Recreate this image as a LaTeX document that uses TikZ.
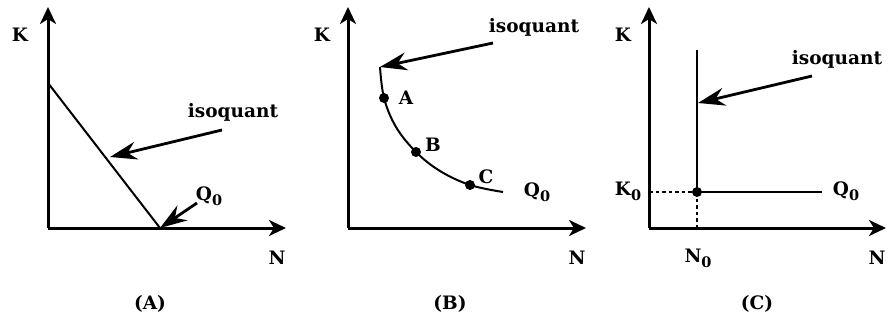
\documentclass[tikz,border=0pt]{standalone}
\usepackage{fontspec}
\setmainfont{DejaVu Serif}
\usepackage{tikz}
\usetikzlibrary{arrows.meta, calc}

\newcommand{\lowidx}[1]{\raisebox{-0.55ex}{\fontsize{14.5}{14.5}\selectfont #1}}

\begin{document}
\begin{tikzpicture}[
    x=1pt, y=-1pt,
    font=\fontsize{18.5}{18.5}\selectfont\bfseries,
    % ---- axes ----
    axis/.style={line width=3pt, -{Stealth[length=17pt, width=16pt, inset=5pt]}},
    % ---- isoquant curves ----
    quant/.style={line width=2pt},
    % ---- pointer arrows ----
    pointer/.style={line width=2.8pt, -{Stealth[length=27pt, width=18pt, inset=9pt]}},
    guide/.style={line width=1.8pt, dash pattern=on 3.5pt off 3pt},
    dot/.style={circle, fill=black, inner sep=0pt, minimum size=10pt},
    lbl/.style={inner sep=1pt}
]
\useasboundingbox (0,0) rectangle (891,321);

% ============================================================
%  (A) perfect substitutes
% ============================================================
\coordinate (OA) at (48,228);
\coordinate (KA) at (48,7);
\coordinate (NA) at (286,228);
\coordinate (KaTop) at (48,83);
\coordinate (QaEnd) at (160,228);
\coordinate (PtA) at (110,157);

\draw[axis] (OA) -- (KA);
\draw[axis] (OA) -- (NA);
\draw[quant] (KaTop) -- (QaEnd);

\node[lbl] (kA) at (20,35) {K};
\node[lbl] (nA) at (277,258) {N};
\node[lbl] (isoA) at (233,112) {isoquant};
\node[lbl] (qA) at (209,196) {Q\lowidx{0}};
\node[lbl] (capA) at (150,304) {(A)};

\coordinate (isoAtail) at (222,130);
\coordinate (qAtail) at (197,203);
\draw[pointer] (isoAtail) -- (PtA);
\draw[pointer] (qAtail) -- (QaEnd);

% ============================================================
%  (B) convex isoquant
% ============================================================
\coordinate (OB) at (348,228);
\coordinate (KB) at (348,7);
\coordinate (NB) at (586,228);
\coordinate (BTop) at (380,67);
\coordinate (BEnd) at (503,192);

\draw[axis] (OB) -- (KB);
\draw[axis] (OB) -- (NB);
\draw[quant] plot[smooth, tension=0.6] coordinates
    {(380,67) (384,98) (396,127) (416,152) (440,171) (470,185) (503,192)};

\node[dot] (ptA) at (384,98) {};
\node[dot] (ptB) at (416,152) {};
\node[dot] (ptC) at (470,185) {};
\node[lbl] (lA) at (406,98) {A};
\node[lbl] (lB) at (433,145) {B};
\node[lbl] (lC) at (486,177) {C};
\node[lbl] (qB) at (537,192) {Q\lowidx{0}};

\node[lbl] (kB) at (322,35) {K};
\node[lbl] (nB) at (577,258) {N};
\node[lbl] (isoB) at (534,27) {isoquant};
\node[lbl] (capB) at (450,304) {(B)};

\coordinate (isoBtail) at (493,43);
\draw[pointer] (isoBtail) -- (BTop);

% ============================================================
%  (C) fixed proportions
% ============================================================
\coordinate (OC) at (649,228);
\coordinate (KC) at (649,7);
\coordinate (NC) at (886,228);
\coordinate (CTop) at (697,50);
\coordinate (CRight) at (822,192);
\coordinate (K0) at (649,192);
\coordinate (N0) at (697,228);
\coordinate (PtC) at (698,103);

\draw[axis] (OC) -- (KC);
\draw[axis] (OC) -- (NC);

\node[dot] (corner) at (697,192) {};
\draw[quant] (CTop) -- (corner.center) -- (CRight);
\draw[guide] (K0) -- (corner.center);
\draw[guide] (corner.center) -- (N0);

\node[lbl] (kC) at (623,35) {K};
\node[lbl] (k0) at (628,191) {K\lowidx{0}};
\node[lbl] (n0) at (698,258) {N\lowidx{0}};
\node[lbl] (qC) at (846,191) {Q\lowidx{0}};
\node[lbl] (nC) at (877,258) {N};
\node[lbl] (isoC) at (837,59) {isoquant};
\node[lbl] (capC) at (757,304) {(C)};

\coordinate (isoCtail) at (812,76);
\draw[pointer] (isoCtail) -- (PtC);

\end{tikzpicture}
\end{document}
